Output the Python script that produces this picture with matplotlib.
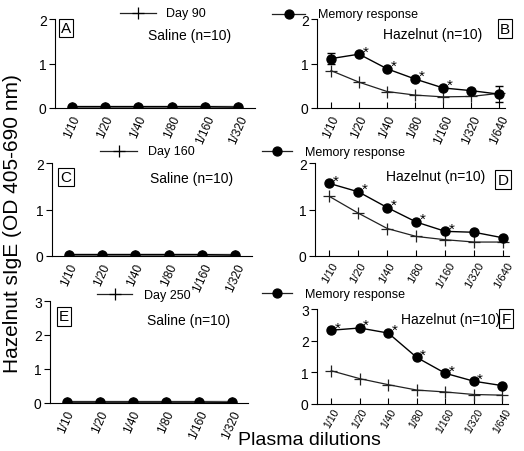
import numpy as np
import matplotlib.pyplot as plt
from matplotlib.lines import Line2D

plt.rcParams['font.family'] = ['Liberation Sans', 'DejaVu Sans']

# dilution labels
saline_dil = ["1/10", "1/20", "1/40", "1/80", "1/160", "1/320"]
hazel_dil = ["1/10", "1/20", "1/40", "1/80", "1/160", "1/320", "1/640"]

# saline groups (flat near zero)
saline_day = [0.02, 0.02, 0.02, 0.02, 0.02, 0.02]
saline_mem = [0.03, 0.03, 0.03, 0.03, 0.03, 0.02]

# hazelnut groups
day90 = [0.84, 0.58, 0.37, 0.29, 0.25, 0.26, 0.33]
mem90 = [1.11, 1.21, 0.88, 0.65, 0.45, 0.39, 0.31]
err90 = [0.12, 0.03, 0.03, 0.03, 0.03, 0.03, 0.18]
star90 = [1, 2, 3, 4]

day160 = [1.28, 0.92, 0.59, 0.42, 0.35, 0.30, 0.30]
mem160 = [1.56, 1.38, 1.04, 0.73, 0.53, 0.51, 0.39]
star160 = [0, 1, 2, 3, 4]

day250 = [1.05, 0.80, 0.61, 0.44, 0.38, 0.30, 0.28]
mem250 = [2.33, 2.40, 2.24, 1.47, 0.97, 0.72, 0.58]
star250 = [0, 1, 2, 3, 4, 5]

fig = plt.figure(figsize=(5.24, 4.52), dpi=100)

def px(l, t, r, b):
    return [l / 524, 1 - b / 452, (r - l) / 524, (b - t) / 452]

def style(ax, labels, ymax, xmax, rot=66, fs=8.5, pad=4):
    ax.set_xlim(-0.5, xmax)
    ax.set_ylim(0, ymax)
    ax.spines['top'].set_visible(False)
    ax.spines['right'].set_visible(False)
    ax.set_xticks(range(len(labels)))
    ax.set_xticklabels(labels, rotation=rot, ha='center', fontsize=fs)
    ax.set_yticks(range(int(ymax) + 1))
    ax.tick_params(axis='y', labelsize=10, length=4, width=0.8, pad=2)
    ax.tick_params(axis='x', direction='in', length=4, width=0.8, pad=pad)

def saline(ax, letter, tpos, lpos, ymax):
    x = np.arange(len(saline_dil))
    ax.plot(x, saline_day, '-', color='#888888', lw=2.5, marker='+', ms=7)
    ax.plot(x, saline_mem, '-', color='black', lw=1, marker='o', ms=6.5)
    style(ax, saline_dil, ymax, 5.5)
    ax.text(*tpos, "Saline (n=10)", transform=ax.transAxes, ha='center', va='center', fontsize=10)
    ax.text(*lpos, letter, transform=ax.transAxes, ha='center', va='center', fontsize=11,
            bbox=dict(boxstyle='square,pad=0.15', fc='white', ec='black', lw=0.8))

def hazel(ax, day, mem, stars, letter, tpos, lpos, ymax, err=None, **kw):
    x = np.arange(len(hazel_dil))
    ax.plot(x, day, '-', color='#222222', lw=0.9, marker='+', ms=8, mew=0.9)
    if err is not None:
        ax.errorbar(x, mem, yerr=err, fmt='none', ecolor='black', elinewidth=0.8, capsize=3)
    ax.plot(x, mem, '-', color='black', lw=1, marker='o', ms=6.5)
    for i in stars:
        ax.annotate('*', (x[i], mem[i]), xytext=(4.5, -3), textcoords='offset points',
                    ha='center', va='bottom', fontsize=11)
    style(ax, hazel_dil, ymax, 6.2, **kw)
    ax.text(*tpos, "Hazelnut (n=10)", transform=ax.transAxes, ha='center', va='center', fontsize=10)
    ax.text(*lpos, letter, transform=ax.transAxes, ha='center', va='center', fontsize=11,
            bbox=dict(boxstyle='square,pad=0.15', fc='white', ec='black', lw=0.8))

axA = fig.add_axes(px(55, 20, 255, 109))
axB = fig.add_axes(px(317, 20, 505, 109))
axC = fig.add_axes(px(52, 164, 252, 257))
axD = fig.add_axes(px(315, 164, 509, 257))
axE = fig.add_axes(px(50, 302, 248, 404))
axF = fig.add_axes(px(317, 310, 508, 405))

saline(axA, "A", (0.675, 0.82), (0.055, 0.90), 2)
saline(axC, "C", (0.70, 0.84), (0.07, 0.85), 2)
saline(axE, "E", (0.70, 0.81), (0.07, 0.85), 3)
hazel(axB, day90, mem90, star90, "B", (0.617, 0.83), (1.0, 0.89), 2, err90)
hazel(axD, day160, mem160, star160, "D", (0.624, 0.86), (0.97, 0.82), 2, rot=60, fs=8, pad=3)
hazel(axF, day250, mem250, star250, "F", (0.70, 0.89), (0.99, 0.90), 3, rot=60, fs=7.5, pad=1.5)

# legends drawn in figure pixels
def legend_line(x0, x1, y, marker, ms):
    fy = 1 - y / 452
    fig.add_artist(Line2D([x0 / 524, x1 / 524], [fy, fy], color='#222222', lw=0.9,
                          transform=fig.transFigure))
    fig.add_artist(Line2D([(x0 + x1) / 2 / 524], [fy], marker=marker, ms=ms, color='black',
                          mew=0.9, transform=fig.transFigure))

def legend_text(x, y, s):
    fig.text(x / 524, 1 - y / 452, s, ha='left', va='center', fontsize=9)

legend_line(120, 156, 14, '+', 8)
legend_text(166, 14, "Day 90")
legend_line(272, 305, 15, 'o', 6.5)
legend_text(318, 15, "Memory response")

legend_line(100, 137, 152, '+', 8)
legend_text(148, 152, "Day 160")
legend_line(262, 292, 152, 'o', 6.5)
legend_text(305, 153, "Memory response")

legend_line(97, 132, 295, '+', 8)
legend_text(144, 296, "Day 250")
legend_line(262, 292, 294, 'o', 6.5)
legend_text(305, 295, "Memory response")

fig.text(0.023, 0.505, "Hazelnut sIgE (OD 405-690 nm)", rotation=90, ha='center', va='center', fontsize=15)
fig.text(309 / 524, 1 - 441 / 452, "Plasma dilutions", ha='center', va='center', fontsize=14)

fig.savefig("out.png", dpi=100)
